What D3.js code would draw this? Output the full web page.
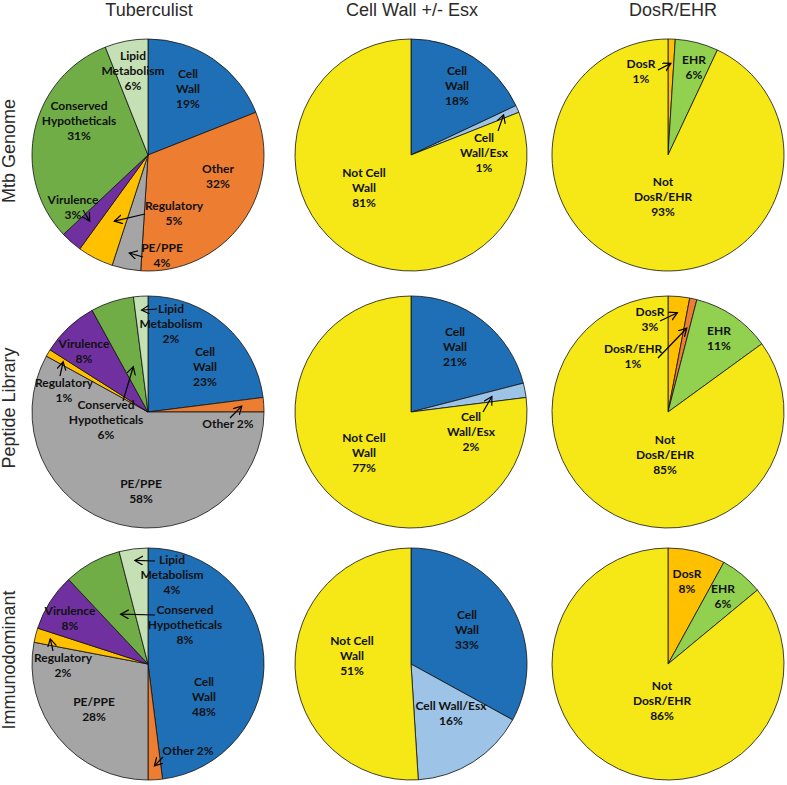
<!DOCTYPE html>
<html lang="en">
<head>
<meta charset="utf-8"/>
<title>Mtb antigen pies</title>
<script src="https://d3js.org/d3.v7.min.js"></script>
<style>
  body { margin: 0; background: #fff; }
</style>
</head>
<body>
<script>
// headings
var colNames = ["Tuberculist", "Cell Wall +/- Esx", "DosR/EHR"];
var rowNames = ["Mtb Genome", "Peptide Library", "Immunodominant"];

// Tuberculist categories (clockwise from 12 o'clock)
var tbCategories = ["Cell Wall", "Other", "PE/PPE", "Regulatory", "Virulence", "Conserved Hypotheticals", "Lipid Metabolism"];
var tbGenome  = [19, 32, 4, 5, 3, 31, 6];
var tbLibrary = [23, 2, 58, 1, 8, 6, 2];
var tbImmuno  = [48, 2, 28, 2, 8, 8, 4];

// cell wall +/- esx
var cwCategories = ["Cell Wall", "Cell Wall/Esx", "Not Cell Wall"];
var cwGenome  = [18, 1, 81];
var cwLibrary = [21, 2, 77];
var cwImmuno  = [33, 16, 51];

// DosR / EHR
var drCategories = ["DosR", "DosR/EHR", "EHR", "Not DosR/EHR"];
var drGenome  = [1, 0, 6, 93];
var drLibrary = [3, 1, 11, 85];
var drImmuno  = [8, 0, 6, 86];

var categories = [tbCategories, cwCategories, drCategories];
var values = [
  [tbGenome, cwGenome, drGenome],
  [tbLibrary, cwLibrary, drLibrary],
  [tbImmuno, cwImmuno, drImmuno]
];

var colours = {
  "Cell Wall": "#1f6fb7", "Other": "#ed7d31", "PE/PPE": "#a5a5a5",
  "Regulatory": "#ffc000", "Virulence": "#7030a0",
  "Conserved Hypotheticals": "#70ad47", "Lipid Metabolism": "#c5e0b4",
  "Cell Wall/Esx": "#9dc3e6", "Not Cell Wall": "#f5e816",
  "DosR": "#ffc000", "DosR/EHR": "#ed7d31", "EHR": "#92d050", "Not DosR/EHR": "#f5e816"
};

// label placement (offset of text block from pie centre, line wrapping, optional arrow:
// [start dx, start dy, tip radius fraction along slice middle])
var labelLayout = [
  [
    [ {dx: 40, dy: -66, lines: ["Cell", "Wall"]},
      {dx: 70, dy: 21, lines: ["Other"]},
      {dx: 14, dy: 100, lines: ["PE/PPE"], arrow: [-5, 102, 0.86]},
      {dx: 26, dy: 58, lines: ["Regulatory"], arrow: [-3, 59, 0.64]},
      {dx: -75, dy: 52, lines: ["Virulence"], arrow: [-65, 55, 0.76]},
      {dx: -69, dy: -34, lines: ["Conserved", "Hypotheticals"]},
      {dx: -15, dy: -84, lines: ["Lipid", "Metabolism"]} ],
    [ {dx: 46, dy: -69, lines: ["Cell", "Wall"]},
      {dx: 73, dy: -2, lines: ["Cell", "Wall/Esx"], arrow: [87, -24, 0.87]},
      {dx: -47, dy: 33, lines: ["Not Cell", "Wall"]} ],
    [ {dx: -27, dy: -84, lines: ["DosR"], arrow: [-10, -85, 0.79]},
      null,
      {dx: 26, dy: -88, lines: ["EHR"]},
      {dx: -5, dy: 42, lines: ["Not", "DosR/EHR"]} ]
  ],
  [
    [ {dx: 57, dy: -45, lines: ["Cell", "Wall"]},
      {dx: 80, dy: 12, lines: ["Other"], inline: true, arrow: [82, 6, 0.81]},
      {dx: -7, dy: 79, lines: ["PE/PPE"]},
      {dx: -84, dy: -22, lines: ["Regulatory"], arrow: [-88, -36, 0.85]},
      {dx: -64, dy: -61, lines: ["Virulence"]},
      {dx: -42, dy: 8, lines: ["Conserved", "Hypotheticals"], arrow: [-25, -11, 0.41]},
      {dx: 23, dy: -88, lines: ["Lipid", "Metabolism"], arrow: [9, -103, 0.88]} ],
    [ {dx: 44, dy: -65, lines: ["Cell", "Wall"]},
      {dx: 60, dy: 20, lines: ["Cell", "Wall/Esx"], arrow: [72, 0, 0.71]},
      {dx: -47, dy: 41, lines: ["Not Cell", "Wall"]} ],
    [ {dx: -18, dy: -93, lines: ["DosR"], arrow: [-8, -91, 0.86]},
      {dx: -35, dy: -56, lines: ["DosR/EHR"], arrow: [-10, -54, 0.74]},
      {dx: 51, dy: -74, lines: ["EHR"]},
      {dx: -3, dy: 43, lines: ["Not", "DosR/EHR"]} ]
  ],
  [
    [ {dx: 56, dy: 33, lines: ["Cell", "Wall"]},
      {dx: 40, dy: 87, lines: ["Other"], inline: true, arrow: [15, 93, 0.88]},
      {dx: -54, dy: 45, lines: ["PE/PPE"]},
      {dx: -85, dy: 1, lines: ["Regulatory"], arrow: [-95, -13, 0.87]},
      {dx: -78, dy: -46, lines: ["Virulence"]},
      {dx: 37, dy: -39, lines: ["Conserved", "Hypotheticals"], arrow: [7, -49, 0.49]},
      {dx: 24, dy: -89, lines: ["Lipid", "Metabolism"], arrow: [7, -103, 0.9]} ],
    [ {dx: 56, dy: -34, lines: ["Cell", "Wall"]},
      {dx: 40, dy: 49, lines: ["Cell Wall/Esx"]},
      {dx: -59, dy: -8, lines: ["Not Cell", "Wall"]} ],
    [ {dx: 19, dy: -83, lines: ["DosR"]},
      null,
      {dx: 55, dy: -68, lines: ["EHR"]},
      {dx: -6, dy: 37, lines: ["Not", "DosR/EHR"]} ]
  ]
];

var w = 787;
var h = 785;
var radius = 116;
var colX = [148, 411, 668];
var rowY = [155, 412, 664];
var lineH = 15;

var svg = d3.select("body")
  .append("svg")
  .attr("width", w)
  .attr("height", h);

// open arrowhead
svg.append("defs").append("marker")
  .attr("id", "arrow")
  .attr("markerUnits", "userSpaceOnUse")
  .attr("markerWidth", 10)
  .attr("markerHeight", 10)
  .attr("refX", 8)
  .attr("refY", 4.5)
  .attr("orient", "auto")
  .append("path")
  .attr("d", "M0,0 L8,4.5 L0,9")
  .attr("fill", "none")
  .attr("stroke", "#000")
  .attr("stroke-width", 1.2);

// column titles
svg.selectAll("text.colTitle")
  .data(colNames)
  .enter()
  .append("text")
  .attr("class", "colTitle")
  .attr("x", function(d, i) { return colX[i] + (i == 2 ? 5 : 1); })
  .attr("y", 16)
  .attr("text-anchor", "middle")
  .attr("font-family", "Liberation Sans, Arial, sans-serif")
  .attr("font-size", "18px")
  .attr("fill", "#2b2b2b")
  .text(function(d) { return d; });

// row titles
svg.selectAll("text.rowTitle")
  .data(rowNames)
  .enter()
  .append("text")
  .attr("class", "rowTitle")
  .attr("transform", function(d, i) { return "translate(15," + (rowY[i] - 4) + ") rotate(-90)"; })
  .attr("text-anchor", "middle")
  .attr("font-family", "Liberation Sans, Arial, sans-serif")
  .attr("font-size", "18px")
  .attr("fill", "#2b2b2b")
  .text(function(d) { return d; });

var pie = d3.pie().sort(null).value(function(d) { return d.value; });
var arc = d3.arc().innerRadius(0).outerRadius(radius);

for (var r = 0; r < 3; r++) {
  for (var c = 0; c < 3; c++) {
    var cats = categories[c];
    var vals = values[r][c];
    var rows = cats.map(function(k, i) { return {name: k, value: vals[i], idx: i}; });
    var arcs = pie(rows);

    var g = svg.append("g")
      .attr("transform", "translate(" + colX[c] + "," + rowY[r] + ")");

    // slices
    g.selectAll("path.slice")
      .data(arcs.filter(function(d) { return d.data.value > 0; }))
      .enter()
      .append("path")
      .attr("class", "slice")
      .attr("d", arc)
      .attr("fill", function(d) { return colours[d.data.name]; })
      .attr("stroke", "#111")
      .attr("stroke-width", 0.8)
      .attr("stroke-linejoin", "round");

    var layout = labelLayout[r][c];

    arcs.forEach(function(a) {
      var lab = layout[a.data.idx];
      if (!lab || a.data.value <= 0) return;
      var pct = a.data.value + "%";
      var lines = lab.inline ? [lab.lines.join(" ") + " " + pct] : lab.lines.concat([pct]);
      var y0 = lab.dy - (lines.length - 1) / 2 * lineH;

      var t = g.append("text")
        .attr("text-anchor", "middle")
        .attr("font-family", "Lato, sans-serif")
        .attr("font-weight", "bold")
        .attr("font-size", "12px")
        .attr("fill", "#111");
      t.selectAll("tspan")
        .data(lines)
        .enter()
        .append("tspan")
        .attr("x", lab.dx)
        .attr("y", function(d, i) { return y0 + i * lineH; })
        .attr("dy", "0.35em")
        .text(function(d) { return d; });

      // leader arrow into the slice
      if (lab.arrow) {
        var mid = (a.startAngle + a.endAngle) / 2;
        var tr = radius * lab.arrow[2];
        g.append("line")
          .attr("x1", lab.arrow[0])
          .attr("y1", lab.arrow[1])
          .attr("x2", Math.sin(mid) * tr)
          .attr("y2", -Math.cos(mid) * tr)
          .attr("stroke", "#000")
          .attr("stroke-width", 1.2)
          .attr("marker-end", "url(#arrow)");
      }
    });
  }
}
</script>
</body>
</html>
